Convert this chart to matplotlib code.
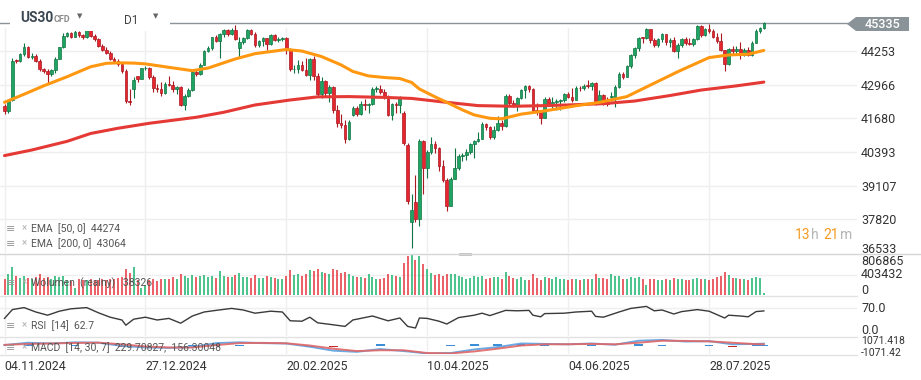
import numpy as np
import matplotlib
matplotlib.use("Agg")
import matplotlib.pyplot as plt
from matplotlib.patches import Polygon, Rectangle

plt.rcParams['font.family'] = ['Roboto', 'DejaVu Sans']

# ---------------- data ----------------
date_labels = ["04.11.2024", "27.12.2024", "20.02.2025", "10.04.2025", "04.06.2025", "28.07.2025"]
date_bars = [0, 36, 72, 108, 144, 180]

opens = [
    42150, 41944, 42368, 43871, 43866, 44122, 44422, 44036, 44079, 43867,
    43557, 43498, 43373, 43508, 43965, 44388, 44824, 44944, 44801, 44985,
    44852, 44771, 45076, 44824, 44696, 44451, 44293, 44190, 43951, 43860,
    43745, 43474, 42347, 42800, 43280, 43200, 43584, 43608, 43271, 42847,
    42814, 42658, 42993, 42963, 42781, 42883, 42182, 42537, 42754, 43452,
    43380, 43711, 44243, 44371, 44775, 44630, 44915, 45047, 44907, 45070,
    44350, 44601, 44731, 45044, 44914, 44466, 44628, 44747, 44518, 44856,
    44687, 44693, 44759, 44304, 43552, 43581, 43736, 43544, 43346, 43943,
    43289, 42614, 43095, 42664, 42882, 41988, 41505, 41418, 40877, 41800,
    42091, 41828, 42209, 42193, 42222, 42817, 42818, 42683, 42524, 41804,
    42220, 42204, 41870, 40660, 37700, 38470, 37844, 40804, 39785, 40401,
    40710, 40551, 39849, 39318, 38343, 39357, 39773, 40257, 40273, 40384,
    40681, 40820, 40900, 41461, 41359, 40967, 41248, 41500, 41377, 42535,
    42262, 42170, 42439, 42766, 42901, 42783, 41963, 41959, 41699, 42436,
    42189, 42303, 42354, 42385, 42596, 42502, 42390, 42831, 42825, 42927,
    42923, 43023, 42249, 42563, 42260, 42500, 42507, 42877, 43379, 43267,
    43666, 44093, 44364, 44759, 44743, 45082, 44655, 44485, 44697, 44884,
    44600, 44684, 44241, 44467, 44692, 44545, 44521, 44695, 45198, 44877,
    45080, 45011, 44801, 44624, 44289, 43742, 44322, 44254, 44330, 44101,
    44303, 44097, 44576, 45034, 45130,
]
highs = [
    42230, 42420, 43990, 43960, 44180, 44560, 44450, 44180, 44130, 43930,
    43620, 43560, 43560, 44020, 44420, 44950, 44990, 44990, 45050, 45020,
    44900, 45130, 45110, 44890, 44740, 44520, 44420, 44260, 44040, 43950,
    43820, 43560, 42800, 43250, 43300, 43620, 43680, 43650, 43320, 43000,
    43050, 43050, 43300, 43100, 42920, 42900, 42600, 42850, 43500, 43560,
    43780, 44280, 44450, 44800, 44860, 44950, 45080, 45100, 45150, 45240,
    44800, 44780, 45080, 45080, 44980, 44680, 44800, 44760, 44900, 44900,
    44780, 44800, 44790, 44380, 43700, 43900, 43880, 43980, 43980, 44050,
    43400, 43250, 43150, 42950, 42900, 42200, 41850, 41600, 41600, 42150,
    42150, 42350, 42400, 42280, 42880, 42900, 42950, 42800, 42560, 42280,
    42300, 42550, 41950, 40750, 38800, 39500, 40900, 40850, 40450, 40950,
    40800, 40600, 40100, 39400, 39450, 40540, 40300, 40350, 40500, 40750,
    40850, 41150, 41550, 41500, 41380, 41400, 41750, 41600, 42600, 42600,
    42380, 42480, 42800, 42950, 42960, 42850, 42250, 42000, 42480, 42500,
    42500, 42400, 42420, 42650, 42680, 42850, 42900, 42930, 42980, 43150,
    43080, 43050, 42750, 42600, 42500, 42700, 42950, 43450, 43450, 43700,
    44150, 44400, 44800, 44800, 45130, 45100, 44750, 44750, 44950, 44900,
    44750, 44800, 44550, 44750, 44800, 44750, 44750, 45250, 45230, 45150,
    45290, 45080, 44950, 44950, 44300, 44350, 44450, 44450, 44600, 44350,
    44400, 44620, 45080, 45180, 45360,
]
lows = [
    41830, 41900, 42340, 43780, 43820, 44080, 43980, 43940, 43820, 43480,
    43430, 43000, 43280, 43400, 43930, 44360, 44790, 44760, 44780, 44800,
    44700, 44740, 44790, 44640, 44400, 44250, 44150, 43920, 43790, 43680,
    43420, 42260, 42180, 42450, 43050, 43170, 43540, 43200, 42700, 42700,
    42550, 42620, 42900, 42700, 42600, 42150, 41980, 42480, 42720, 43300,
    43350, 43700, 44200, 44300, 44580, 44000, 44800, 44820, 44850, 44680,
    44000, 44520, 44700, 44850, 44420, 44400, 44450, 44300, 44480, 44650,
    44600, 44650, 44150, 43480, 43420, 43400, 43480, 43300, 43150, 43150,
    42500, 42450, 42500, 42300, 41900, 41350, 41300, 40750, 40850, 41750,
    41750, 41800, 42000, 41900, 42200, 42700, 42600, 42400, 41750, 41600,
    41900, 41900, 40650, 38400, 36720, 37700, 37550, 38800, 39400, 40300,
    40350, 39650, 39250, 38130, 38330, 39350, 39700, 40050, 40100, 40300,
    40150, 40780, 40880, 41250, 40900, 40900, 41200, 41250, 41360, 42200,
    42100, 41950, 42400, 42450, 42700, 41900, 41800, 41450, 41690, 42150,
    42050, 41980, 42000, 42300, 42450, 42300, 42380, 42740, 42780, 42850,
    42750, 42200, 42240, 42200, 42150, 42350, 42100, 42850, 43200, 43240,
    43620, 44000, 44250, 44550, 44720, 44550, 44400, 44420, 44600, 44500,
    44400, 44200, 44000, 44400, 44500, 44480, 44450, 44680, 44800, 44820,
    44950, 44750, 44550, 44250, 43480, 43720, 44150, 44150, 43950, 44050,
    44050, 44050, 44550, 44950, 45100,
]
closes = [
    41944, 42368, 43871, 43866, 44122, 44422, 44036, 44079, 43867, 43557,
    43498, 43373, 43508, 43965, 44388, 44824, 44944, 44801, 44985, 44852,
    44771, 45076, 44824, 44696, 44451, 44293, 44190, 43951, 43860, 43745,
    43474, 42347, 42300, 43136, 43197, 43584, 43608, 43271, 42847, 42814,
    42658, 42993, 42963, 42781, 42883, 42182, 42537, 42754, 43452, 43380,
    43711, 44243, 44371, 44775, 44630, 44915, 45047, 44907, 45070, 44729,
    44601, 44731, 45044, 44914, 44466, 44628, 44747, 44518, 44856, 44687,
    44693, 44759, 44304, 43552, 43581, 43736, 43544, 43346, 43943, 43289,
    42614, 43095, 42664, 42882, 41988, 41505, 41418, 40877, 41548, 42091,
    41828, 42209, 42193, 42222, 42817, 42818, 42683, 42524, 41804, 42220,
    42204, 42437, 40753, 38520, 38167, 37844, 40804, 39785, 40401, 40710,
    40551, 39849, 39318, 38343, 39357, 39773, 40257, 40273, 40384, 40681,
    40820, 40900, 41461, 41359, 40967, 41248, 41500, 41377, 42535, 42262,
    42170, 42439, 42766, 42901, 42783, 41963, 41959, 41699, 42436, 42189,
    42303, 42354, 42385, 42596, 42502, 42390, 42831, 42825, 42927, 42923,
    43023, 42249, 42563, 42260, 42214, 42507, 42877, 43379, 43267, 43666,
    44093, 44364, 44759, 44743, 45082, 44655, 44485, 44697, 44884, 44600,
    44684, 44241, 44467, 44692, 44545, 44521, 44695, 45198, 44877, 45080,
    45011, 44801, 44624, 44289, 43742, 44322, 44254, 44330, 44101, 44303,
    44097, 44576, 45034, 45130, 45335,
]
# volume in thousands
volume_k = [
    330, 420, 560, 380, 350, 380, 340, 330, 360, 420, 340, 360, 330, 380, 360, 380, 300, 280, 150,
    330, 310, 300, 320, 300, 310, 320, 300, 330, 320, 340, 360, 520, 450, 560, 300, 150, 200, 300, 330, 280,
    330, 320, 330, 360, 320, 420, 380, 340, 400, 360, 390, 400, 360, 380, 340, 480, 380, 370, 360, 400,
    450, 360, 370, 350, 400, 340, 350, 380, 360, 340, 330, 330, 390, 500, 400, 420, 380, 430, 500,
    480, 520, 470, 450, 420, 520, 500, 440, 470, 420, 380, 370, 360, 340, 430, 360, 330, 320, 340, 430, 400,
    380, 370, 650, 780, 800, 700, 780, 620, 520, 450, 400, 430, 380, 430, 420, 420, 390, 360, 330, 340, 380,
    360, 380, 330, 340, 360, 370, 320, 470, 380, 340, 330, 360, 300, 310, 420, 340, 300, 360, 350, 330, 370,
    330, 320, 310, 320, 330, 300, 320, 330, 320, 420, 350, 350, 330, 430, 380, 380, 320, 330, 370, 340,
    360, 330, 200, 330, 320, 310, 300, 330, 300, 340, 330, 330, 310, 300, 320, 350, 330, 320, 300, 330, 360, 380, 460,
    400, 350, 340, 330, 320, 300, 350, 360, 340, 38.326,
]

ema50_bar = [0, 5, 10, 16, 22, 26, 29, 33, 36, 41, 48, 52, 59, 64, 72, 76, 81, 86, 89, 93, 97,
             101, 104, 106, 110, 113, 117, 120, 124, 127, 132, 137, 142, 146, 152, 159, 165,
             172, 180, 185, 190, 194]
ema50 = [42290, 42600, 42920, 43270, 43650, 43780, 43800, 43790, 43760, 43650, 43500, 43600,
         43950, 44150, 44310, 44250, 44040, 43720, 43470, 43300, 43240, 43200, 43050, 42800,
         42500, 42290, 42000, 41810, 41680, 41660, 41840, 41940, 42060, 42160, 42290, 42510,
         42950, 43460, 44000, 44100, 44130, 44274]
ema200_bar = [0, 7, 16, 22, 29, 37, 49, 56, 64, 73, 80, 88, 97, 104, 113, 121, 130, 138, 144,
              153, 161, 170, 178, 187, 194]
ema200 = [40255, 40470, 40800, 41100, 41300, 41490, 41720, 41910, 42190, 42380, 42500, 42510,
          42480, 42440, 42290, 42165, 42140, 42165, 42190, 42240, 42340, 42550, 42760, 42920, 43064]

rsi_bar = [0, 2, 5, 8, 11, 14, 17, 21, 24, 27, 30, 31, 33, 36, 39, 42, 45, 48, 51, 54, 58, 61,
           64, 68, 71, 73, 76, 78, 80, 84, 87, 89, 94, 98, 101, 103, 105, 106, 108, 111, 113,
           116, 120, 122, 124, 128, 131, 134, 135, 137, 138, 143, 146, 150, 151, 153, 157, 160,
           164, 166, 168, 171, 173, 177, 180, 184, 185, 188, 190, 192, 194]
rsi = [44, 66, 71, 60, 52, 62, 68, 71, 58, 47, 40, 27, 42, 47, 40, 44, 32, 50, 60, 64, 69, 65,
       57, 62, 60, 38, 37, 47, 33, 28, 24, 40, 50, 38, 45, 24, 20, 45, 44, 37, 30, 46, 52, 57,
       51, 64, 63, 64, 52, 48, 56, 57, 60, 62, 49, 47, 60, 69, 74, 63, 65, 55, 61, 66, 62, 45,
       52, 50, 48, 61, 62.7]

macd_bar = [0, 6, 12, 18, 24, 30, 36, 42, 48, 54, 60, 66, 72, 78, 84, 90, 96, 102, 108, 114,
            120, 126, 132, 138, 144, 150, 156, 162, 168, 174, 180, 186, 192, 194]
macd = [50, 350, 250, 400, 350, -50, -250, -300, -200, 300, 400, 300, 250, -150, -650, -800,
        -450, -700, -1000, -950, -500, -200, 250, 200, 150, 250, 100, 600, 700, 500, 550, 150,
        200, 229.7]
signal = [80, 200, 260, 320, 360, 150, -120, -250, -250, 50, 300, 330, 280, 0, -400, -700,
          -600, -600, -950, -1000, -750, -400, 0, 150, 160, 200, 150, 350, 600, 580, 520, 350,
          170, 156.3]

price_ticks = [37820, 39107, 40393, 41680, 42966, 44253]
price_bottom = 36533
last_price = 45335
vol_ticks = ["806865", "403432", "0"]

assert len(opens) == len(highs) == len(lows) == len(closes) == len(volume_k) == 195

# ---------------- drawing ----------------
W, H = 921, 380
GREEN, GREEN_EDGE = '#1fa463', '#0f7441'
RED, RED_EDGE = '#e5262f', '#aa1820'
GRID = '#efefef'
TXT = '#333333'
SEP = '#d6d6d6'

fig = plt.figure(figsize=(W / 100, H / 100), dpi=100)


def fx(px):
    return px / W


def fy(py):
    return 1 - py / H


def panel(top, bottom):
    a = fig.add_axes([0, fy(bottom), fx(857), (bottom - top) / H])
    a.set_xlim(-1.15, 217.8)
    for s in a.spines.values():
        s.set_visible(False)
    a.set_xticks([])
    a.set_yticks([])
    return a


ax = panel(0, 253)
axv = panel(254, 295)
axr = panel(296, 336)
axm = panel(337, 354)

x = np.arange(len(closes))
o, h, l, c = (np.array(v, float) for v in (opens, highs, lows, closes))
up = c >= o

# main price panel
ax.set_ylim(price_bottom, 46201)
for b in date_bars:
    ax.axvline(b, ymax=0.889, color=GRID, lw=1, zorder=0)
ax.yaxis.tick_right()
ax.set_yticks(price_ticks)
ax.set_yticklabels([str(v) for v in price_ticks])
ax.tick_params(axis='y', length=0, pad=3, labelsize=9, labelcolor=TXT)
ax.grid(axis='y', color=GRID, lw=1, zorder=0)
ax.set_axisbelow(True)

ax.axhline(last_price, color='#8a9398', lw=1, zorder=1)
ax.vlines(x, l, h, colors=np.where(up, GREEN_EDGE, RED_EDGE), lw=0.8, zorder=2)
ax.bar(x, np.maximum(np.abs(c - o), 25), bottom=np.minimum(o, c), width=0.68,
       color=np.where(up, GREEN, RED), edgecolor=np.where(up, GREEN_EDGE, RED_EDGE),
       linewidth=0.5, zorder=3)
ax.plot(ema200_bar, ema200, color='#e53935', lw=2.2, zorder=4, solid_capstyle='round')
ax.plot(ema50_bar, ema50, color='#ff9810', lw=2.2, zorder=4, solid_capstyle='round')

# volume panel
axv.set_ylim(0, 827000)
for b in date_bars:
    axv.axvline(b, color=GRID, lw=1, zorder=0)
axv.axhline(403432, color=GRID, lw=1, zorder=0)
axv.vlines(x, 0, np.array(volume_k) * 1000, colors=np.where(up, '#19b46c', '#e5343a'), lw=1.1)

# RSI panel
axr.set_ylim(0, 100)
for b in date_bars:
    axr.axvline(b, color=GRID, lw=1, zorder=0)
axr.axhline(70, color=GRID, lw=1, zorder=0)
axr.plot(rsi_bar, rsi, color='#3a3a3a', lw=1)

# MACD panel
axm.set_ylim(-1071.418, 1071.418)
for b in date_bars:
    axm.axvline(b, color=GRID, lw=1, zorder=0)
hist = np.array(macd) - np.array(signal)
axm.bar(macd_bar, hist, width=2.2, color=np.where(hist >= 0, '#3b8fd9', '#c62828'), zorder=1)
axm.plot(macd_bar, macd, color='#5aa0e0', lw=1.4, alpha=0.9, zorder=2)
axm.plot(macd_bar, signal, color='#e06666', lw=1.4, alpha=0.9, zorder=2)
axm.set_xticks(date_bars)
axm.set_xticklabels(date_labels, ha='left')
axm.tick_params(axis='x', length=0, pad=4, labelsize=8.8, labelcolor=TXT)

# separators
fig.add_artist(plt.Line2D([0, 1], [fy(253.5)] * 2, color=SEP, lw=1))
for yy in (295.5, 336.5, 354.5):
    fig.add_artist(plt.Line2D([0, fx(857)], [fy(yy)] * 2, color='#e2e2e2', lw=1))
fig.add_artist(Rectangle((fx(459), fy(255.5)), fx(13), 2.5 / H, color='#c4c4c4', lw=0))

# right side labels of the sub panels
fig.text(fx(861), fy(249), str(price_bottom), ha='left', va='center', fontsize=9, color=TXT)
for lab, yy in zip(vol_ticks, (261.5, 275, 291)):
    fig.text(fx(861), fy(yy), lab, ha='left', va='center', fontsize=9, color=TXT)
fig.text(fx(861), fy(309), "70.0", ha='left', va='center', fontsize=9, color=TXT)
fig.text(fx(861), fy(331), "0.0", ha='left', va='center', fontsize=9, color=TXT)
fig.text(fx(861), fy(341), "1071.418", ha='left', va='center', fontsize=7.5, color=TXT)
fig.text(fx(861), fy(352.5), "-1071.42", ha='left', va='center', fontsize=7.5, color=TXT)

# current price tag
tag = Polygon([(fx(847), fy(24)), (fx(856), fy(17)), (fx(909), fy(17)),
               (fx(909), fy(31)), (fx(856), fy(31))], closed=True, color='#8a9398', lw=0)
fig.add_artist(tag)
fig.text(fx(882), fy(24.5), str(last_price), ha='center', va='center', fontsize=9,
         color='white', fontweight='medium')

# header
fig.add_artist(Rectangle((fx(10), fy(31)), fx(160), 21 / H, color='white', lw=0, zorder=5))
fig.text(fx(20), fy(18.5), "US30", ha='left', va='center', fontsize=10, fontweight='bold',
         color='#3c4853', zorder=6)
fig.text(fx(53.5), fy(19.5), "CFD", ha='left', va='center', fontsize=6.5, fontweight='bold',
         color='#8c8c8c', zorder=6)
fig.text(fx(80), fy(16.5), "▼", ha='center', va='center', fontsize=5, color='#666666', zorder=6)
fig.text(fx(124), fy(20.5), "D1", ha='left', va='center', fontsize=8.5, color='#444444', zorder=6)
fig.text(fx(156), fy(16.5), "▼", ha='center', va='center', fontsize=5, color='#666666', zorder=6)

# countdown
for s, xx, col in (("13", 795, '#f59a23'), ("h", 811, '#b5b5b5'),
                   ("21", 823, '#f59a23'), ("m", 840, '#b5b5b5')):
    fig.text(fx(xx), fy(235), s, ha='left', va='center', fontsize=10, color=col)

# legends
legend_rows = [(229, "EMA  [50, 0]  44274"), (244, "EMA  [200, 0]  43064"),
               (283, "Wolumen  (realny)   38326"), (326, "RSI  [14]  62.7"),
               (348, "MACD  [14, 30, 7]  229.70827,  156.30048")]
for yy, label in legend_rows:
    fig.text(fx(6), fy(yy), "≡", ha='left', va='center', fontsize=8, color='#9a9a9a')
    fig.text(fx(22), fy(yy - 1), "×", ha='left', va='center', fontsize=7, color='#b0b0b0')
    fig.text(fx(31), fy(yy), label, ha='left', va='center', fontsize=7.5, color='#555555')

fig.savefig("out.png", dpi=100)
